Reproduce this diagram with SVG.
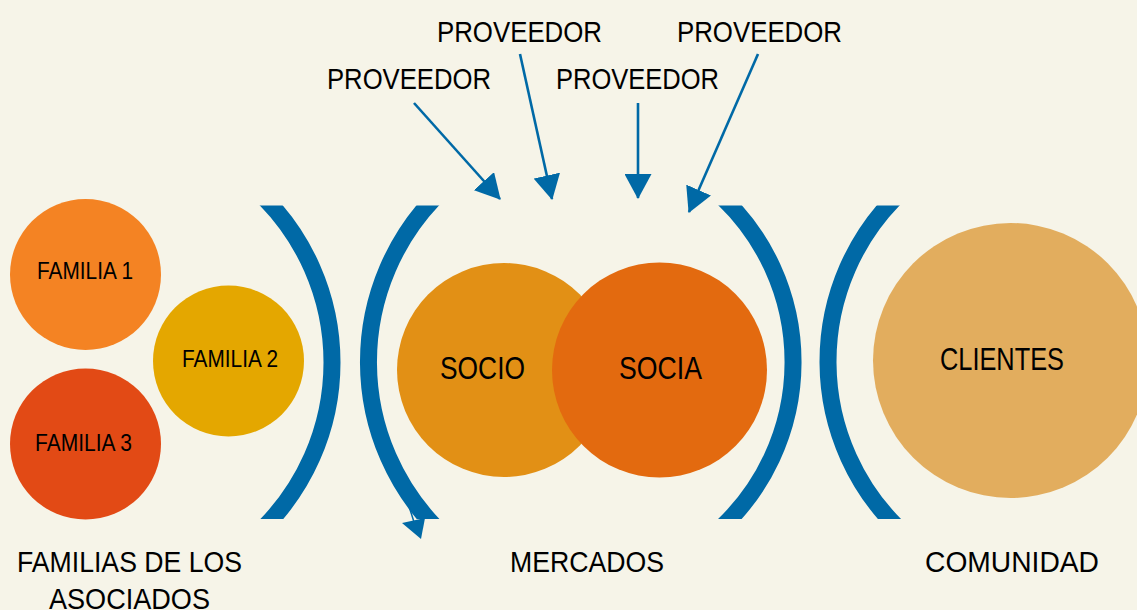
<svg xmlns="http://www.w3.org/2000/svg" width="1137" height="610" viewBox="0 0 1137 610">
  <style>
    .t { font-family: "Liberation Sans", Arial, sans-serif; fill: #000; text-anchor: middle; }
    .big { font-size: 29px; }
    .mid { font-size: 30.5px; }
    .sm { font-size: 23px; }
    .arc { fill: none; stroke: #0069a6; stroke-width: 17; }
    .con { stroke: #0069a6; stroke-width: 2.6; fill: none; marker-end: url(#ah); }
  </style>
  <defs>
    <marker id="ah" markerUnits="userSpaceOnUse" markerWidth="25" markerHeight="27" viewBox="0 0 25 27" refX="24" refY="13.5" orient="auto">
      <path d="M0,0 L25,13.5 L0,27 Z" fill="#0069a6"/>
    </marker>
    <clipPath id="band">
      <rect x="0" y="205.5" width="1137" height="313.5"/>
    </clipPath>
  </defs>
  <rect width="1137" height="610" fill="#f6f4e8"/>

  <g id="familia1">
    <circle cx="85.5" cy="274.5" r="75.5" fill="#f48323"/>
    <text class="t sm" x="85" y="279" textLength="96" lengthAdjust="spacingAndGlyphs">FAMILIA 1</text>
  </g>
  <g id="familia2">
    <circle cx="228.5" cy="361" r="75.5" fill="#e4a700"/>
    <text class="t sm" x="230" y="367" textLength="96" lengthAdjust="spacingAndGlyphs">FAMILIA 2</text>
  </g>
  <g id="familia3">
    <circle cx="85.5" cy="444" r="75.5" fill="#e24a15"/>
    <text class="t sm" x="83.5" y="451" textLength="97" lengthAdjust="spacingAndGlyphs">FAMILIA 3</text>
  </g>
  <g id="socio">
    <circle cx="504" cy="370" r="107" fill="#e29015"/>
    <text class="t mid" x="482.5" y="379" textLength="85" lengthAdjust="spacingAndGlyphs">SOCIO</text>
  </g>
  <g id="socia">
    <circle cx="659.5" cy="370" r="107.5" fill="#e36a0f"/>
    <text class="t mid" x="660.5" y="379" textLength="83" lengthAdjust="spacingAndGlyphs">SOCIA</text>
  </g>
  <g id="clientes">
    <circle cx="1010.5" cy="360.5" r="137.5" fill="#e2ad5e"/>
    <text class="t mid" x="1002" y="370" textLength="124" lengthAdjust="spacingAndGlyphs">CLIENTES</text>
  </g>

  <g id="arcs" clip-path="url(#band)">
    <path class="arc" d="M261.4,195 A234,234 0 0 1 261.4,530"/>
    <path class="arc" d="M437.3,195 A237,237 0 0 0 438.3,530"/>
    <path class="arc" d="M719.8,195 A227,227 0 0 1 718.7,530"/>
    <path class="arc" d="M898,195 A233,233 0 0 0 900.1,530"/>
  </g>

  <g id="connectors">
    <line class="con" x1="414" y1="103" x2="500" y2="199"/>
    <line class="con" x1="520" y1="54" x2="552" y2="199"/>
    <line class="con" x1="638" y1="103" x2="638" y2="198"/>
    <line class="con" x1="758" y1="54" x2="689" y2="212"/>
    <line x1="407" y1="500" x2="414" y2="522" stroke="#0069a6" stroke-width="1.5"/>
    <polygon points="402,523 425,518 421,539" fill="#0069a6"/>
  </g>

  <g id="labels">
    <text class="t big" x="519.5" y="42" textLength="165" lengthAdjust="spacingAndGlyphs">PROVEEDOR</text>
    <text class="t big" x="759.5" y="42" textLength="165" lengthAdjust="spacingAndGlyphs">PROVEEDOR</text>
    <text class="t big" x="409" y="89" textLength="164" lengthAdjust="spacingAndGlyphs">PROVEEDOR</text>
    <text class="t big" x="637.5" y="89" textLength="163" lengthAdjust="spacingAndGlyphs">PROVEEDOR</text>
    <text class="t big" x="129.5" y="572" textLength="225" lengthAdjust="spacingAndGlyphs">FAMILIAS DE LOS</text>
    <text class="t big" x="129.5" y="609" textLength="161" lengthAdjust="spacingAndGlyphs">ASOCIADOS</text>
    <text class="t big" x="587" y="572" textLength="154" lengthAdjust="spacingAndGlyphs">MERCADOS</text>
    <text class="t big" x="1012" y="572" textLength="174" lengthAdjust="spacingAndGlyphs">COMUNIDAD</text>
  </g>
</svg>
